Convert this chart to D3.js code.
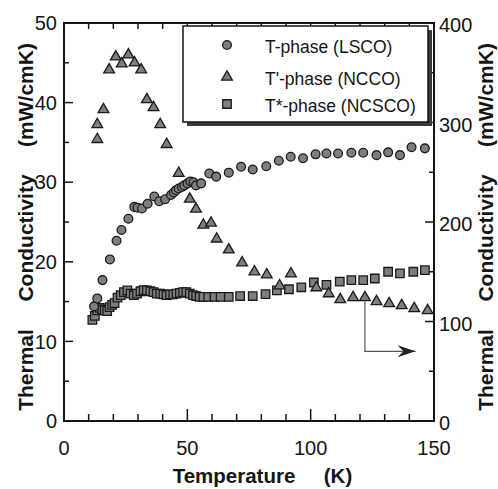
<!DOCTYPE html>
<html><head><meta charset="utf-8">
<script src="https://cdn.jsdelivr.net/npm/d3@7"></script>
<style>body{margin:0;background:#fff}svg{display:block}</style>
</head><body><svg id="c" width="498" height="489"></svg>
<script>
// T-phase (LSCO), left axis (mW/cmK)
const lscoT = [12.2,13.5,15.6,18.6,21.3,23.3,26.1,28.5,29.8,31.6,33.9,36.6,38.6,41,43.4,44.5,45.4,46.5,47.8,48.8,50.1,51.2,52.5,53.5,55.6,58.9,61.7,66.8,71.8,76.5,82,87.1,91.9,96.9,102,106.4,111.1,116.5,121.3,126.7,131.4,136.2,140.9,146.3];
const lscoK = [14.4,15.4,17.7,20.3,22.65,24.0,25.4,26.9,26.8,26.7,27.3,28.2,27.6,27.85,28.4,28.7,29.0,29.2,29.4,29.6,29.85,30.1,30.0,29.6,29.85,31.1,30.7,31.2,31.95,31.6,32.0,32.7,33.2,33.0,33.5,33.6,33.6,33.7,33.7,33.4,33.75,33.4,34.4,34.25];
// T'-phase (NCCO), right axis (mW/cmK)
const nccoT = [13.5,13.5,16,18.3,21,23.4,26.1,28.6,31.3,33.6,36.3,39,41.6,46.5,51,53.5,56.5,59.6,61.9,66.8,72.2,77.2,82.2,87.4,92,102.3,107.3,112,117.2,122,126.7,131.8,136.9,142,147.4];
const nccoK = [283,298,313,353,366,359,368,360,353,323,315,298,278,249,223,213,197,199,183,172,159,150,147,136,148,134,128,122,124,124,120,118,116,113,111];
// T*-phase (NCSCO), left axis (mW/cmK)
const ncscoT = [11.5,12.5,13.5,14.5,15.5,16.5,17.5,18.5,19.5,20.5,21.7,23,24.3,25.7,27,28.3,29.6,31,32.3,33.6,35,36.3,37.6,39,40.3,41.6,43,44.3,45.6,47,48.3,49.6,51,52.3,53.6,55,56.5,58.5,61,63.5,66.8,71.4,76.5,81.7,86.3,91.2,96.2,101.3,106.4,111.8,116.5,121.3,126,131.4,136.2,141.6,146.3];
const ncscoK = [12.7,13.2,13.9,14.2,14.0,13.9,13.8,14.3,14.6,14.8,15.5,15.8,16.2,16.4,16.0,15.8,16.0,16.3,16.45,16.4,16.3,16.2,16.0,16.0,15.9,15.8,15.9,15.9,16.0,16.1,16.2,16.2,16.0,15.8,15.7,15.6,15.6,15.6,15.6,15.6,15.6,15.7,15.7,15.95,16.4,16.55,16.8,17.4,17.1,17.5,17.7,17.7,17.9,18.75,18.55,18.75,18.95];

const legendLabels = ["T-phase (LSCO)", "T'-phase (NCCO)", "T*-phase (NCSCO)"];
const xTicks = [0,50,100,150];
const yLeftTicks = [0,10,20,30,40,50];
const yRightTicks = [0,100,200,300,400];
// arrow annotation (T, right-axis value)
const arrowT = [122,122,142.5];
const arrowK = [120,70,70];

const svg = d3.select("#c");
const FONT = "'Liberation Sans', Arial, Helvetica, sans-serif";
const L=64, R=434, T=23, B=421;
const x = d3.scaleLinear().domain([0,150]).range([L,R]);
const yL = d3.scaleLinear().domain([0,50]).range([B,T]);
const yR = d3.scaleLinear().domain([0,400]).range([B,T]);

const ink = "#151515";
const g = svg.append("g");

// bottom ticks
const xMinor = d3.range(10,150,10).filter(v=>v%50!==0);
const xMajor = [50,100];
g.selectAll(".xb").data(xMinor).join("line").attr("x1",d=>x(d)).attr("x2",d=>x(d)).attr("y1",B).attr("y2",B-7).attr("stroke",ink).attr("stroke-width",1.5);
g.selectAll(".xbm").data(xMajor).join("line").attr("x1",d=>x(d)).attr("x2",d=>x(d)).attr("y1",B).attr("y2",B-12).attr("stroke",ink).attr("stroke-width",1.5);
// top ticks
g.selectAll(".xt").data(xMinor).join("line").attr("x1",d=>x(d)).attr("x2",d=>x(d)).attr("y1",T).attr("y2",T+6).attr("stroke",ink).attr("stroke-width",1.5);
g.selectAll(".xtm").data(xMajor).join("line").attr("x1",d=>x(d)).attr("x2",d=>x(d)).attr("y1",T).attr("y2",T+9).attr("stroke",ink).attr("stroke-width",1.5);
// left ticks
const ylMinor = [5,15,25,35,45], ylMajor=[10,20,30,40];
g.selectAll(".yl").data(ylMinor).join("line").attr("x1",L).attr("x2",L+5).attr("y1",d=>yL(d)).attr("y2",d=>yL(d)).attr("stroke",ink).attr("stroke-width",1.5);
g.selectAll(".ylm").data(ylMajor).join("line").attr("x1",L).attr("x2",L+9).attr("y1",d=>yL(d)).attr("y2",d=>yL(d)).attr("stroke",ink).attr("stroke-width",1.5);
// right ticks
const yrMinor=[50,150,250,350], yrMajor=[100,200,300];
g.selectAll(".yr").data(yrMinor).join("line").attr("x1",R).attr("x2",R-5).attr("y1",d=>yR(d)).attr("y2",d=>yR(d)).attr("stroke",ink).attr("stroke-width",1.5);
g.selectAll(".yrm").data(yrMajor).join("line").attr("x1",R).attr("x2",R-9).attr("y1",d=>yR(d)).attr("y2",d=>yR(d)).attr("stroke",ink).attr("stroke-width",1.5);

// frame
svg.append("rect").attr("x",L).attr("y",T).attr("width",R-L).attr("height",B-T).attr("fill","none").attr("stroke",ink).attr("stroke-width",2);

// tick labels
svg.selectAll(".xl").data(xTicks).join("text").attr("x",d=>x(d)).attr("y",455).attr("text-anchor","middle")
  .attr("font-family",FONT).attr("font-size",20).attr("fill",ink).text(d=>d);
svg.selectAll(".yll").data(yLeftTicks).join("text").attr("x",57).attr("y",d=>yL(d)).attr("dy","0.36em").attr("text-anchor","end")
  .attr("font-family",FONT).attr("font-size",20).attr("fill",ink).text(d=>d);
svg.selectAll(".yrl").data(yRightTicks).join("text").attr("x",439).attr("y",d=>yR(d)+2).attr("dy","0.36em").attr("text-anchor","start")
  .attr("font-family",FONT).attr("font-size",20).attr("fill",ink).text(d=>d);

// axis titles
svg.append("text").attr("x",234).attr("y",483).attr("text-anchor","middle").attr("font-family",FONT).attr("font-size",20.5).attr("font-weight","bold").attr("fill",ink).text("Temperature");
svg.append("text").attr("x",338).attr("y",483).attr("text-anchor","middle").attr("font-family",FONT).attr("font-size",20.5).attr("font-weight","bold").attr("fill",ink).text("(K)");
const titleParts = [["Thermal",370],["Conductivity",238],["(mW/cmK)",95]];
titleParts.forEach(([t,c])=>{
  svg.append("text").attr("transform",`translate(33,${c}) rotate(-90)`).attr("text-anchor","middle")
    .attr("font-family",FONT).attr("font-size",21).attr("font-weight","bold").attr("fill",ink).text(t);
  svg.append("text").attr("transform",`translate(493,${c}) rotate(-90)`).attr("text-anchor","middle")
    .attr("font-family",FONT).attr("font-size",21).attr("font-weight","bold").attr("fill",ink).text(t);
});

// markers
const mFill = "#7e7e7e", mStroke = "#1a1a1a";
const circ = d3.symbol().type(d3.symbolCircle).size(60);
const tri = d3.symbol().type(d3.symbolTriangle).size(50);
const sq = d3.symbol().type(d3.symbolSquare).size(72);

const lsco = lscoT.map((t,i)=>[t,lscoK[i]]);
const ncco = nccoT.map((t,i)=>[t,nccoK[i]]);
const ncsco = ncscoT.map((t,i)=>[t,ncscoK[i]]);

svg.append("g").selectAll("path").data(ncsco).join("path").attr("d",sq())
  .attr("transform",d=>`translate(${x(d[0])},${yL(d[1])})`).attr("fill",mFill).attr("stroke",mStroke).attr("stroke-width",1.3);
svg.append("g").selectAll("path").data(lsco).join("path").attr("d",circ())
  .attr("transform",d=>`translate(${x(d[0])},${yL(d[1])})`).attr("fill",mFill).attr("stroke",mStroke).attr("stroke-width",1.3);
svg.append("g").selectAll("path").data(ncco).join("path").attr("d",tri())
  .attr("transform",d=>`translate(${x(d[0])},${yR(d[1])})`).attr("fill",mFill).attr("stroke",mStroke).attr("stroke-width",1.3);

// arrow annotation
const arrowPts = arrowT.map((t,i)=>[x(t),yR(arrowK[i])]);
svg.append("path").attr("d",d3.line()(arrowPts)).attr("fill","none").attr("stroke","#555").attr("stroke-width",1.2);
const tip = arrowPts[arrowPts.length-1];
svg.append("path").attr("d",`M${tip[0]},${tip[1]} L${tip[0]-18},${tip[1]-6} L${tip[0]-12},${tip[1]} L${tip[0]-18},${tip[1]+6} Z`).attr("fill","#222");

// legend
const lg = svg.append("g");
const lx0=183, ly0=26, lw=245, lh=96;
lg.append("rect").attr("x",lx0+4).attr("y",ly0+4).attr("width",lw).attr("height",lh).attr("fill","#3a3a3a");
lg.append("rect").attr("x",lx0).attr("y",ly0).attr("width",lw).attr("height",lh).attr("fill","#fff").attr("stroke",ink).attr("stroke-width",1.5);
const lYs = [45,77,104];
const syms = [circ, tri, sq];
legendLabels.forEach((lab,i)=>{
  lg.append("path").attr("d",syms[i]()).attr("transform",`translate(227,${lYs[i]})`).attr("fill",mFill).attr("stroke",mStroke).attr("stroke-width",1.3);
  lg.append("text").attr("x",265).attr("y",lYs[i]+2).attr("dy","0.35em").attr("font-family",FONT).attr("font-size",17.5).attr("fill",ink).text(lab);
});
</script>
</body></html>
